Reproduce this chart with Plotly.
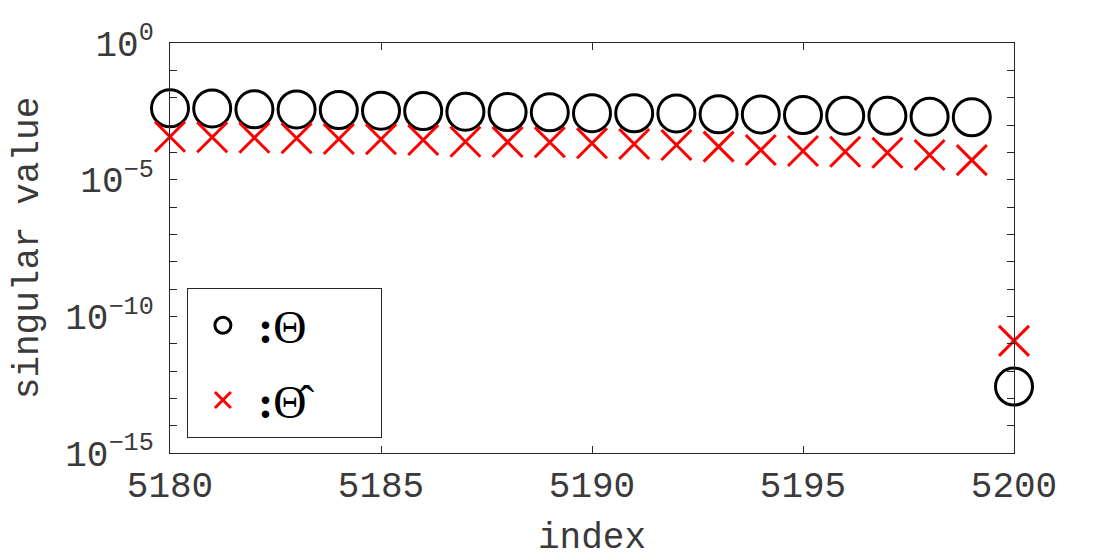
import plotly.graph_objects as go

index = list(range(5180, 5201))
theta = [4.08e-3, 4.05e-3, 3.75e-3, 3.72e-3, 3.54e-3, 3.33e-3, 3.25e-3, 3.06e-3,
         2.99e-3, 2.91e-3, 2.70e-3, 2.68e-3, 2.66e-3, 2.46e-3, 2.44e-3, 2.32e-3,
         2.19e-3, 2.17e-3, 2.01e-3, 1.91e-3, 2.7e-13]
theta_hat = [3.73e-4, 3.55e-4, 3.43e-4, 3.26e-4, 3.07e-4, 3.0e-4, 2.82e-4, 2.45e-4,
             2.4e-4, 2.33e-4, 2.14e-4, 2.02e-4, 1.85e-4, 1.61e-4, 1.22e-4, 1.12e-4,
             1.05e-4, 9.7e-5, 8.0e-5, 5.2e-5, 1.26e-11]
x_ticks = [5180, 5185, 5190, 5195, 5200]
y_exponents = list(range(0, -16, -1))
series_names = ["<b>:</b>Θ", "<b>:</b>Θ\u0302"]

ytickvals = [10.0 ** e for e in y_exponents]
yticktext = [f"10<sup>{e if e == 0 else '−' + str(-e)}</sup>" if e % 5 == 0 else "" for e in y_exponents]

TXT = "#3a3a3a"
PAD = "\u00a0" * 6  # blank room at the right of the legend box, as in the reference

fig = go.Figure()
fig.add_trace(go.Scatter(
    x=index, y=theta, mode="markers", name=series_names[0] + PAD, legendgroup="a",
    cliponaxis=False,
    marker=dict(symbol="circle-open", size=37, color="black", line=dict(width=3, color="black")),
))
fig.add_trace(go.Scatter(
    x=index, y=theta_hat, mode="markers", name=series_names[1] + PAD, legendgroup="b",
    cliponaxis=False,
    marker=dict(symbol="x-thin-open", size=30, color="red", line=dict(width=3, color="red")),
))

axis_common = dict(
    showline=True, linecolor="#262626", linewidth=1, mirror="ticks",
    ticks="inside", ticklen=7, tickwidth=1, tickcolor="#262626",
    showgrid=False, zeroline=False, automargin=False,
    tickfont=dict(family="Liberation Mono", size=36, color=TXT),
)

fig.update_layout(
    width=1120, height=560,
    margin=dict(l=162, r=114, t=35, b=115),
    plot_bgcolor="white", paper_bgcolor="white",
    font=dict(family="Liberation Mono", size=36, color=TXT),
    xaxis=dict(
        range=[5180, 5200], tickvals=x_ticks, ticklabelstandoff=0,
        title=dict(text="index", standoff=15, font=dict(family="Liberation Mono", size=36, color=TXT)),
        **axis_common,
    ),
    yaxis=dict(
        type="log", range=[-15, 0], tickvals=ytickvals, ticktext=yticktext,
        ticklabelstandoff=8,
        title=dict(text="singular value", standoff=15, font=dict(family="Liberation Mono", size=36, color=TXT)),
        **axis_common,
    ),
    legend=dict(
        x=0.02, y=0.037, xanchor="left", yanchor="bottom",
        bgcolor="white", bordercolor="#262626", borderwidth=1,
        font=dict(family="Liberation Serif", size=46, color="black"),
        tracegroupgap=12, itemsizing="trace", itemwidth=60,
    ),
    showlegend=True,
)

fig.write_html("out.html")
